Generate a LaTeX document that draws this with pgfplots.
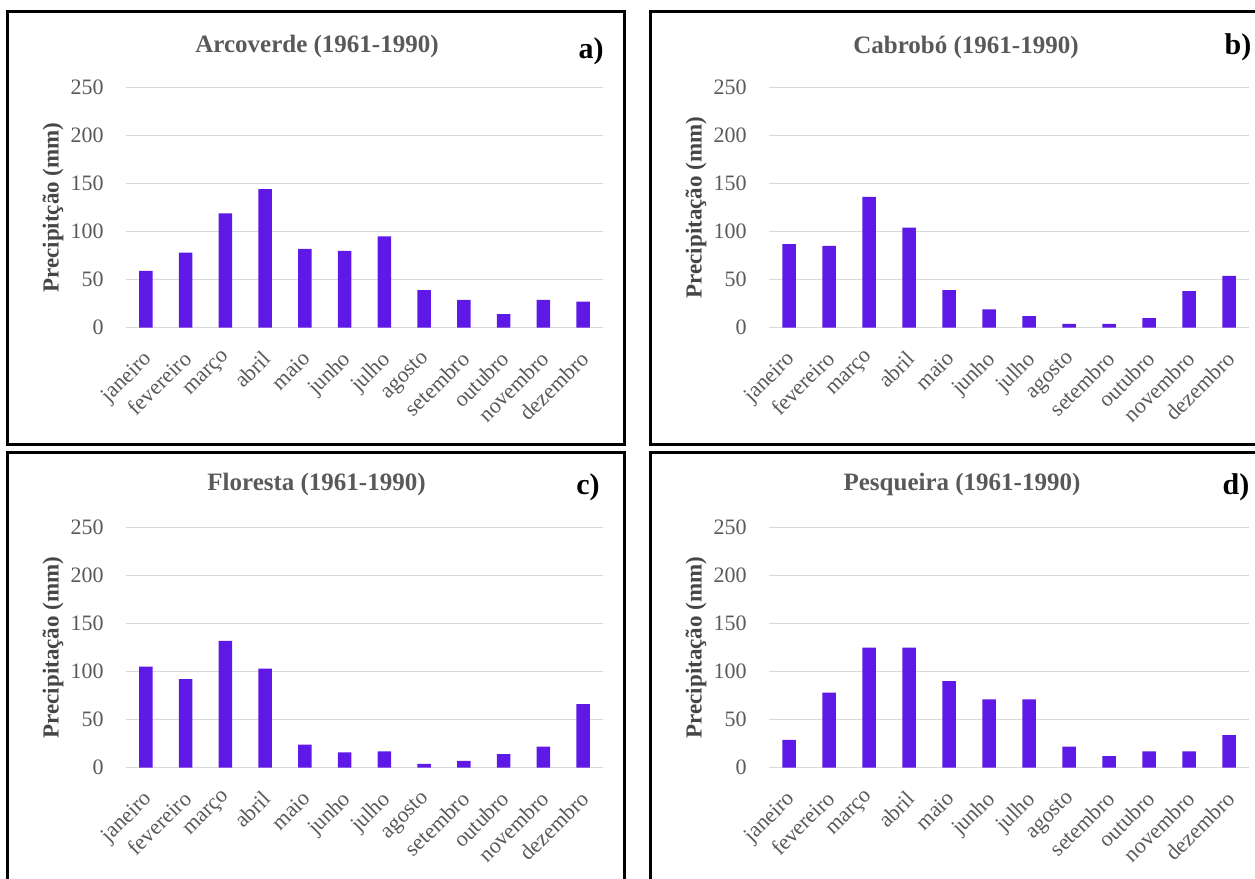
\documentclass[border=0pt]{standalone}
\usepackage{fontspec}
\setmainfont{Liberation Serif}
\usepackage{pgfplots}
\pgfplotsset{compat=1.18}
\definecolor{barc}{RGB}{95,25,230}
\definecolor{gridc}{RGB}{217,217,217}
\definecolor{txtc}{RGB}{89,89,89}
\definecolor{labc}{RGB}{70,70,70}
\pgfplotsset{
  panel/.style={
    scale only axis,
    ybar,
    bar width=6.75pt,
    ymin=0, ymax=250,
    ytick={0,50,100,150,200,250},
    xmin=-0.5, xmax=11.5,
    xtick={0,1,2,3,4,5,6,7,8,9,10,11},
    xticklabels={janeiro,fevereiro,março,abril,maio,junho,julho,agosto,setembro,outubro,novembro,dezembro},
    axis line style={draw=none},
    ymajorgrids,
    grid style={draw=gridc, line width=0.6pt},
    major tick length=0pt,
    tick style={draw=none},
    /pgf/number format/assume math mode=true,
    tick label style={font=\fontsize{11}{13}\selectfont, text=txtc},
    yticklabel style={anchor=east, inner sep=0pt, xshift=-11pt},
    xticklabel style={inner sep=0pt, xshift=-1.9pt, yshift=-10.7pt, rotate=45, anchor=north east},
    ylabel style={at={(axis description cs:0,0.5)}, anchor=center, yshift=36.5pt,
      font=\fontsize{11.5}{13}\selectfont\bfseries, text=labc},
    clip=false,
  },
  bars/.style={fill=barc, draw=none},
}
\begin{document}
\begin{tikzpicture}
\useasboundingbox (0,0) rectangle (627.5pt,439.5pt);
% panel boxes
\draw[line width=1.5pt] (3.5pt,217.25pt) rectangle (312pt,433.5pt);
\draw[line width=1.5pt] (325pt,217.25pt) rectangle (645pt,433.5pt);
\draw[line width=1.5pt] (3.5pt,-8pt) rectangle (312pt,213.15pt);
\draw[line width=1.5pt] (325pt,-8pt) rectangle (645pt,213.15pt);

% a) Arcoverde
\begin{axis}[panel, at={(63pt,275.65pt)}, anchor=south west, width=238.5pt, height=120.2pt,
  ylabel={Precipitção (mm)}]
\addplot[bars] coordinates {(0,59) (1,78) (2,119) (3,144) (4,82) (5,80) (6,95) (7,39) (8,29) (9,14) (10,29) (11,27)};
\end{axis}
% b) Cabrobo
\begin{axis}[panel, at={(384.5pt,275.65pt)}, anchor=south west, width=240pt, height=120.2pt,
  ylabel={Precipitação (mm)}]
\addplot[bars] coordinates {(0,87) (1,85) (2,136) (3,104) (4,39) (5,19) (6,12) (7,4) (8,4) (9,10) (10,38) (11,54)};
\end{axis}
% c) Floresta
\begin{axis}[panel, at={(63pt,55.65pt)}, anchor=south west, width=238.5pt, height=120.2pt,
  ylabel={Precipitação (mm)}]
\addplot[bars] coordinates {(0,105) (1,92) (2,132) (3,103) (4,24) (5,16) (6,17) (7,4) (8,7) (9,14) (10,22) (11,66)};
\end{axis}
% d) Pesqueira
\begin{axis}[panel, at={(384.5pt,55.65pt)}, anchor=south west, width=240pt, height=120.2pt,
  ylabel={Precipitação (mm)}]
\addplot[bars] coordinates {(0,29) (1,78) (2,125) (3,125) (4,90) (5,71) (6,71) (7,22) (8,12) (9,17) (10,17) (11,34)};
\end{axis}

% titles
\node[text=txtc, font=\fontsize{12.5}{14}\selectfont\bfseries] at (158.5pt,416.25pt) {Arcoverde (1961-1990)};
\node[text=txtc, font=\fontsize{12.5}{14}\selectfont\bfseries] at (483pt,416pt) {Cabrobó (1961-1990)};
\node[text=txtc, font=\fontsize{12.5}{14}\selectfont\bfseries] at (158.25pt,197.5pt) {Floresta (1961-1990)};
\node[text=txtc, font=\fontsize{12.5}{14}\selectfont\bfseries] at (481pt,197.5pt) {Pesqueira (1961-1990)};
% panel letters
\node[font=\fontsize{15}{17}\selectfont\bfseries] at (295.5pt,414pt) {a)};
\node[font=\fontsize{15}{17}\selectfont\bfseries] at (619pt,416pt) {b)};
\node[font=\fontsize{15}{17}\selectfont\bfseries] at (294pt,196pt) {c)};
\node[font=\fontsize{15}{17}\selectfont\bfseries] at (618pt,196pt) {d)};
\end{tikzpicture}
\end{document}
